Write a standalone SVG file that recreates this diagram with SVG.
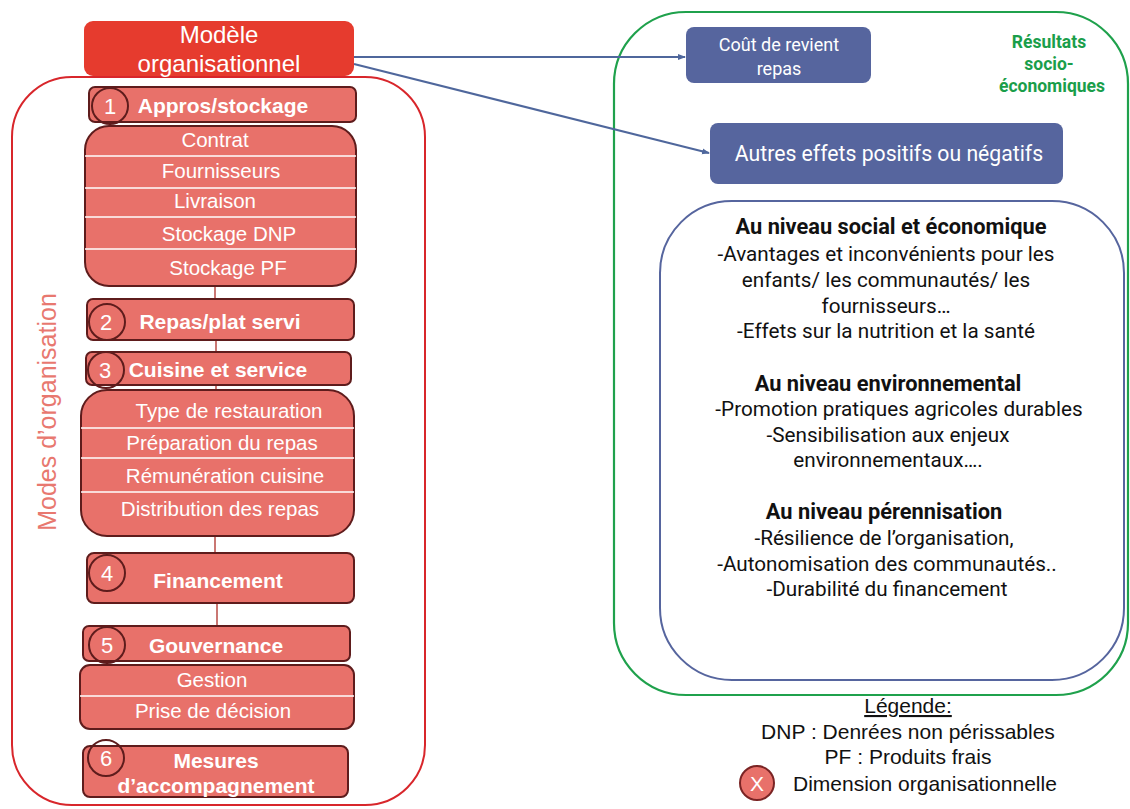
<svg xmlns="http://www.w3.org/2000/svg" width="1130" height="809" viewBox="0 0 1130 809">
<defs>
<marker id="arr" markerWidth="8" markerHeight="8" refX="7" refY="4" orient="auto" markerUnits="userSpaceOnUse">
<path d="M0,1 L8,4 L0,7 Z" fill="#4f679c"/>
</marker>
<style>
.hdr{fill:#e8716a;stroke:#5e1c1c;stroke-width:2}
.sub{fill:#e8716a;stroke:#5e1c1c;stroke-width:2}
.sep{stroke:#ffffff;stroke-width:1.3}
.num{fill:none;stroke:#5e1c1c;stroke-width:2}
.nt{font-family:"Liberation Sans",Arial,sans-serif;font-size:22px;fill:#fff;text-anchor:middle}
.ht{font-family:"Liberation Sans",Arial,sans-serif;font-size:21px;font-weight:bold;fill:#fff;text-anchor:middle}
.st{font-family:"Liberation Sans",Arial,sans-serif;font-size:20.5px;fill:#fff;text-anchor:middle}
.lk{stroke:#b84a44;stroke-width:1.5}
.bt{font-family:Roboto,"Liberation Sans",sans-serif;fill:#fff;text-anchor:middle}
.rt{font-family:Roboto,"Liberation Sans",sans-serif;font-size:20.7px;fill:#111;text-anchor:middle}
.rb{font-weight:bold;font-size:21.8px}
.lg{font-family:"Liberation Sans",Arial,sans-serif;font-size:21px;fill:#111;text-anchor:middle}
</style>
</defs>
<rect width="1130" height="809" fill="#fff"/>

<!-- containers -->
<rect id="cont-left" x="12" y="77" width="413" height="728" rx="60" fill="none" stroke="#d8262b" stroke-width="2"/>
<text x="56" y="412" transform="rotate(-90 56 412)" font-family="'Liberation Sans',Arial,sans-serif" font-size="25" fill="#e8786f" text-anchor="middle">Modes d’organisation</text>
<rect id="cont-right" x="614" y="12" width="514" height="683" rx="72" fill="none" stroke="#1fa14c" stroke-width="2.2"/>
<text font-family="Roboto,'Liberation Sans',sans-serif" font-size="17.5" font-weight="bold" fill="#1a9e4a" text-anchor="middle"><tspan x="1049" y="48">Résultats</tspan><tspan x="1049" y="70">socio-</tspan><tspan x="1052" y="92">économiques</tspan></text>

<!-- connectors -->
<g id="connectors" fill="none">
<line class="lk" x1="215" y1="286" x2="215" y2="299"/>
<line class="lk" x1="216" y1="340" x2="216" y2="352"/>
<line class="lk" x1="216" y1="385" x2="216" y2="390"/>
<line class="lk" x1="215" y1="536" x2="215" y2="553"/>
<line class="lk" x1="217" y1="603" x2="217" y2="626"/>
<line x1="354" y1="57" x2="685" y2="57" stroke="#4f679c" stroke-width="2" marker-end="url(#arr)"/>
<line x1="354" y1="64" x2="709" y2="153" stroke="#4f679c" stroke-width="2" marker-end="url(#arr)"/>
</g>

<g id="modele">
<rect x="84" y="21" width="270" height="55" rx="9" fill="#e63b2e"/>
<text font-family="'Liberation Sans',Arial,sans-serif" font-size="24" fill="#fff" text-anchor="middle"><tspan x="219" y="43">Modèle</tspan><tspan x="219" y="72">organisationnel</tspan></text>
</g>

<g id="n1">
<rect class="hdr" x="89" y="87" width="267" height="35" rx="6"/>
<circle class="num" cx="110" cy="106" r="18"/>
<text class="nt" x="110" y="114">1</text>
<text class="ht" x="223" y="113">Appros/stockage</text>
</g>
<g id="n1-sub">
<rect class="sub" x="85" y="126" width="271" height="160" rx="24"/>
<line class="sep" x1="85" y1="156" x2="356" y2="156"/>
<line class="sep" x1="85" y1="188" x2="356" y2="188"/>
<line class="sep" x1="85" y1="217" x2="356" y2="217"/>
<line class="sep" x1="85" y1="249" x2="356" y2="249"/>
<text class="st" x="215" y="147">Contrat</text>
<text class="st" x="221" y="178">Fournisseurs</text>
<text class="st" x="215" y="208">Livraison</text>
<text class="st" x="229" y="241">Stockage DNP</text>
<text class="st" x="228" y="275">Stockage PF</text>
</g>

<g id="n2">
<rect class="hdr" x="87" y="299" width="267" height="41" rx="6"/>
<circle class="num" cx="107" cy="322" r="18"/>
<text class="nt" x="106" y="330">2</text>
<text class="ht" x="220" y="329">Repas/plat servi</text>
</g>

<g id="n3">
<rect class="hdr" x="86" y="352" width="265" height="33" rx="6"/>
<circle class="num" cx="106" cy="370" r="18"/>
<text class="nt" x="105" y="378">3</text>
<text class="ht" x="218" y="377">Cuisine et service</text>
</g>
<g id="n3-sub">
<rect class="sub" x="81" y="390" width="273" height="146" rx="26"/>
<line class="sep" x1="81" y1="428" x2="354" y2="428"/>
<line class="sep" x1="81" y1="458" x2="354" y2="458"/>
<line class="sep" x1="81" y1="492" x2="354" y2="492"/>
<text class="st" x="229" y="418">Type de restauration</text>
<text class="st" x="222" y="450">Préparation du repas</text>
<text class="st" x="225" y="483">Rémunération cuisine</text>
<text class="st" x="220" y="516">Distribution des repas</text>
</g>

<g id="n4">
<rect class="hdr" x="87" y="553" width="267" height="50" rx="7"/>
<circle class="num" cx="107" cy="573" r="18"/>
<text class="nt" x="107" y="581">4</text>
<text class="ht" x="218" y="588">Financement</text>
</g>

<g id="n5">
<rect class="hdr" x="83" y="626" width="267" height="35" rx="6"/>
<circle class="num" cx="107" cy="645" r="18"/>
<text class="nt" x="107" y="653">5</text>
<text class="ht" x="216" y="653">Gouvernance</text>
</g>
<g id="n5-sub">
<rect class="sub" x="80" y="665" width="274" height="64" rx="10"/>
<line class="sep" x1="80" y1="696" x2="354" y2="696"/>
<text class="st" x="212" y="687">Gestion</text>
<text class="st" x="213" y="718">Prise de décision</text>
</g>

<g id="n6">
<rect class="hdr" x="83" y="746" width="265" height="51" rx="7"/>
<circle class="num" cx="106" cy="758" r="18"/>
<text class="nt" x="106" y="766">6</text>
<text class="ht" x="216" y="768">Mesures</text>
<text class="ht" x="216" y="793">d’accompagnement</text>
</g>

<g id="cout">
<rect x="686" y="27" width="185" height="56" rx="8" fill="#56659e"/>
<text class="bt" font-size="18"><tspan x="779" y="51">Coût de revient</tspan><tspan x="779" y="75">repas</tspan></text>
</g>

<g id="autres">
<rect x="710" y="123" width="353" height="61" rx="8" fill="#56659e"/>
<text class="bt" font-size="21.2" x="889" y="161">Autres effets positifs ou négatifs</text>
</g>

<g id="effets">
<rect x="660" y="201" width="464" height="479" rx="72" fill="none" stroke="#56659e" stroke-width="2"/>
<text class="rt rb" x="891" y="234">Au niveau social et économique</text>
<text class="rt" x="886" y="261">-Avantages et inconvénients pour les</text>
<text class="rt" x="886" y="287">enfants/ les communautés/ les</text>
<text class="rt" x="886" y="313">fournisseurs…</text>
<text class="rt" x="886" y="338">-Effets sur la nutrition et la santé</text>
<text class="rt rb" x="888" y="391">Au niveau environnemental</text>
<text class="rt" x="899" y="416">-Promotion pratiques agricoles durables</text>
<text class="rt" x="888" y="442">-Sensibilisation aux enjeux</text>
<text class="rt" x="888" y="467">environnementaux….</text>
<text class="rt rb" x="884" y="519">Au niveau pérennisation</text>
<text class="rt" x="884" y="545">-Résilience de l’organisation,</text>
<text class="rt" x="887" y="571">-Autonomisation des communautés..</text>
<text class="rt" x="887" y="596">-Durabilité du financement</text>
</g>

<g id="legende">
<text class="lg" x="908" y="713" text-decoration="underline">Légende:</text>
<text class="lg" x="908" y="739">DNP : Denrées non périssables</text>
<text class="lg" x="908" y="764">PF : Produits frais</text>
<circle cx="757" cy="783" r="17" fill="#e8716a" stroke="#7a2424" stroke-width="2"/>
<text class="lg" x="757" y="791" style="fill:#fff">X</text>
<text class="lg" x="793" y="791" style="text-anchor:start">Dimension organisationnelle</text>
</g>
</svg>
